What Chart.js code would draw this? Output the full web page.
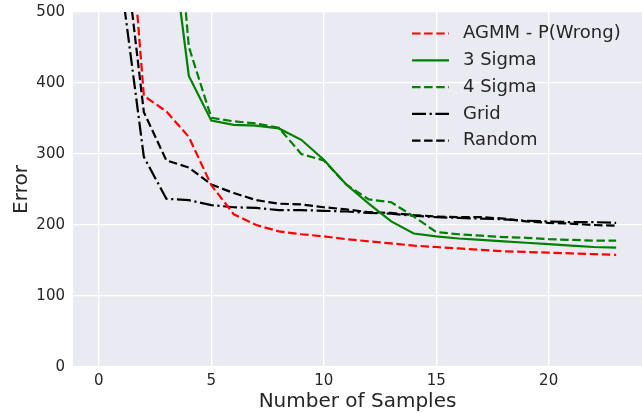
<!DOCTYPE html>
<html>
<head>
    <script src="https://cdn.jsdelivr.net/npm/chart.js"></script>
    <style>
        body {
            margin: 0;
            background: white;
        }
        canvas {
            display: block;
        }
    </style>
</head>
<body>
    <canvas id="errChart" width="642" height="413"></canvas>

    <script>
        // number of samples
        let samples = [0, 1, 2, 3, 4, 5, 6, 7, 8, 9, 10, 11, 12, 13, 14, 15, 16, 17, 18, 19, 20, 21, 22, 23];

        let agmm    = [1500, 780, 382, 360, 324, 256, 215, 200, 191, 187, 184, 180, 177, 174, 171, 169, 167, 165, 163, 162, 161, 160, 159, 158];
        let sigma3  = [1500, 1200, 900, 660, 410, 347, 341, 340, 336, 320, 292, 257, 230, 205, 188, 184, 181, 179, 177, 175, 173, 171, 169, 168];
        let sigma4  = [1600, 1300, 1000, 820, 451, 351, 346, 343, 337, 300, 291, 257, 236, 232, 212, 190, 187, 185, 183, 182, 180, 179, 178, 178];
        let grid    = [1200, 540, 296, 237, 235, 228, 225, 224, 221, 221, 220, 219, 217, 216, 213, 211, 210, 209, 208, 206, 205, 204, 204, 203];
        let random  = [1300, 630, 359, 291, 281, 257, 245, 235, 230, 229, 225, 222, 218, 217, 214, 212, 211, 211, 209, 205, 203, 202, 200, 199];

        let xTicks = [0, 5, 10, 15, 20];
        let yTicks = [0, 100, 200, 300, 400, 500];

        let textColor = '#262626';
        let lw = 2.2;
        let dashed = [8.5, 3.6];
        let dashDot = [14, 3.6, 2.2, 3.6];

        function pts(arr) {
            return samples.map((x, i) => ({ x: x, y: arr[i] }));
        }

        let series = [
            { label: 'AGMM - P(Wrong)', data: pts(agmm), borderColor: '#ff0000', borderDash: dashed },
            { label: '3 Sigma', data: pts(sigma3), borderColor: '#008000', borderDash: [] },
            { label: '4 Sigma', data: pts(sigma4), borderColor: '#008000', borderDash: dashed },
            { label: 'Grid', data: pts(grid), borderColor: '#000000', borderDash: dashDot },
            { label: 'Random', data: pts(random), borderColor: '#000000', borderDash: dashed }
        ];
        series.forEach(s => {
            s.borderWidth = lw;
            s.pointRadius = 0;
            s.fill = false;
            s.tension = 0;
        });

        // grey plot background like seaborn darkgrid
        let bgPlugin = {
            id: 'bg',
            beforeDraw(chart) {
                let a = chart.chartArea;
                let c = chart.ctx;
                c.save();
                c.fillStyle = '#eaeaf2';
                c.fillRect(a.left, a.top, a.right - a.left, a.bottom - a.top);
                c.restore();
            }
        };

        // legend inside the plot, no frame
        let legendPlugin = {
            id: 'inlegend',
            afterDraw(chart) {
                let c = chart.ctx;
                c.save();
                c.font = '18px "DejaVu Sans"';
                c.textBaseline = 'middle';
                c.fillStyle = textColor;
                chart.data.datasets.forEach((ds, i) => {
                    let y = 33.5 + i * 26.8;
                    c.strokeStyle = ds.borderColor;
                    c.lineWidth = lw;
                    c.setLineDash(ds.borderDash);
                    c.beginPath();
                    c.moveTo(412, y);
                    c.lineTo(449, y);
                    c.stroke();
                    c.fillText(ds.label, 463, y);
                });
                c.restore();
            }
        };

        let chart = new Chart(document.getElementById('errChart').getContext('2d'), {
            type: 'line',
            data: { datasets: series },
            options: {
                responsive: false,
                animation: false,
                layout: { padding: { top: 12, right: 0, left: 0, bottom: 0 } },
                plugins: {
                    legend: { display: false },
                    tooltip: { enabled: false }
                },
                scales: {
                    x: {
                        type: 'linear',
                        min: -1.15,
                        max: 24.15,
                        afterBuildTicks(s) { s.ticks = xTicks.map(v => ({ value: v })); },
                        afterFit(s) {
                            s.height = 46;
                            s.paddingLeft = 0;
                            s.paddingRight = 0;
                        },
                        grid: { color: '#ffffff', lineWidth: 1.3, drawTicks: false },
                        border: { display: false },
                        ticks: { color: textColor, font: { family: 'DejaVu Sans', size: 15 }, padding: 5 },
                        title: {
                            display: true,
                            text: 'Number of Samples',
                            color: textColor,
                            font: { family: 'DejaVu Sans', size: 20 },
                            padding: { top: 0, bottom: -1 }
                        }
                    },
                    y: {
                        min: 0,
                        max: 500,
                        afterBuildTicks(s) { s.ticks = yTicks.map(v => ({ value: v })); },
                        afterFit(s) {
                            s.width = 73;
                            s.paddingTop = 0;
                            s.paddingBottom = 0;
                        },
                        grid: { color: '#ffffff', lineWidth: 1.3, drawTicks: false },
                        border: { display: false },
                        ticks: { color: textColor, font: { family: 'DejaVu Sans', size: 15 }, padding: 8 },
                        title: {
                            display: true,
                            text: 'Error',
                            color: textColor,
                            font: { family: 'DejaVu Sans', size: 20 },
                            padding: { top: 10, bottom: 0 }
                        }
                    }
                }
            },
            plugins: [bgPlugin, legendPlugin]
        });
    </script>
</body>
</html>
